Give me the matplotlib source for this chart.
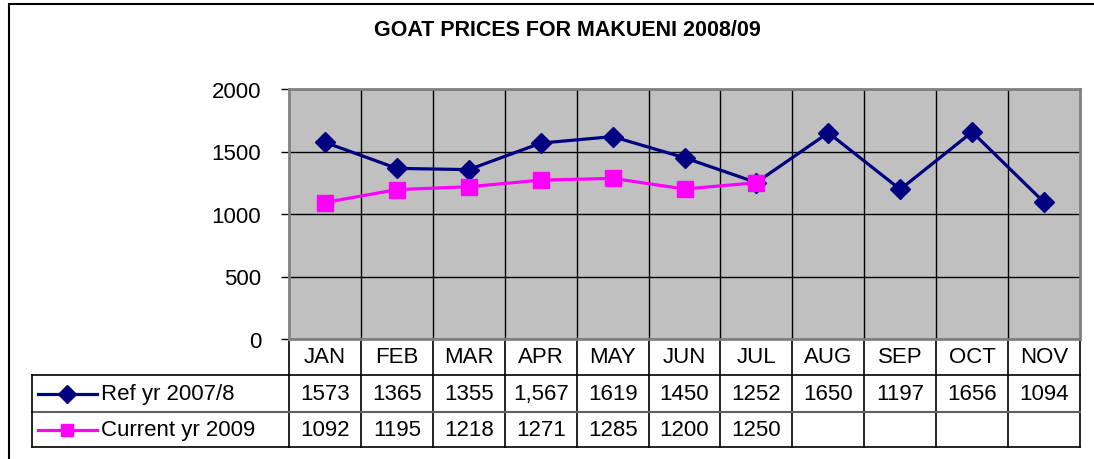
import matplotlib
matplotlib.use("Agg")
import matplotlib.pyplot as plt
from matplotlib.lines import Line2D
from matplotlib.patches import Rectangle
import matplotlib.transforms as mtransforms

months = ["JAN", "FEB", "MAR", "APR", "MAY", "JUN", "JUL", "AUG", "SEP", "OCT", "NOV"]
ref_values = [1573, 1365, 1355, 1567, 1619, 1450, 1252, 1650, 1197, 1656, 1094]
ref_labels = ["1573", "1365", "1355", "1,567", "1619", "1450", "1252", "1650", "1197", "1656", "1094"]
cur_values = [1092, 1195, 1218, 1271, 1285, 1200, 1250]
series_names = ["Ref yr 2007/8", "Current yr 2009"]
y_ticks = [0, 500, 1000, 1500, 2000]
title = "GOAT PRICES FOR MAKUENI 2008/09"

plt.rcParams['font.family'] = ['Liberation Sans', 'DejaVu Sans']

W, H = 1094, 460
fig = plt.figure(figsize=(W / 100, H / 100), dpi=100)
fig.patch.set_facecolor("white")

# outer chart border (only top/left visible)
fig.add_artist(Rectangle((9 / W, -0.1), 1.2, 1 - 5 / H + 0.1, transform=fig.transFigure,
                         fill=False, edgecolor="black", lw=1.5))

L, R, T, B = 289, 1080, 90, 340
ax = fig.add_axes([L / W, 1 - B / H, (R - L) / W, (B - T) / H])
ax.set_facecolor("#C0C0C0")
for s in ax.spines.values():
    s.set_color("#808080")
    s.set_linewidth(2)

x_ref = list(range(len(ref_values)))
x_cur = list(range(len(cur_values)))
navy = "#000080"
mag = "#FF00FF"
ax.plot(x_ref, ref_values, color=navy, lw=2.3, marker="D", ms=10.5, mec=navy, mfc=navy, zorder=5)
ax.plot(x_cur, cur_values, color=mag, lw=2.3, marker="s", ms=11.5, mec=mag, mfc=mag, zorder=5)

ax.set_xlim(-0.5, len(months) - 0.5)
ax.set_ylim(0, 2000)
ax.set_yticks(y_ticks)
ax.set_yticklabels([str(v) for v in y_ticks], fontsize=16)
ax.tick_params(axis="y", length=6, width=1, color="black", direction="out", pad=14)
ax.set_xticks([i + 0.5 for i in range(len(months) - 1)], minor=False)
ax.tick_params(axis="x", length=0, labelbottom=False)
ax.grid(True, axis="both", color="black", lw=1)
ax.set_axisbelow(True)

fig.text(567 / W, 1 - 30 / H, title, ha="center", va="center", fontsize=15.5, fontweight="bold")

# data table
blend = mtransforms.blended_transform_factory(ax.transData, ax.transAxes)
ph = B - T
def yf(py):
    return -(py - B) / ph

y_hdr = yf(376)
y_r1 = yf(413)
y_r2 = yf(448)
xl = (32 - L) / (R - L)

def line(xs, ys, trans, color="black", lw=1.2):
    ax.add_line(Line2D(xs, ys, transform=trans, color=color, lw=lw, clip_on=False))

n = len(months)
for i in range(n + 1):
    line([i - 0.5, i - 0.5], [0, y_r2], blend)
line([-0.5, n - 0.5], [y_hdr, y_hdr], blend)
line([-0.5, n - 0.5], [y_r1, y_r1], blend, color="#606060", lw=1.5)
line([-0.5, n - 0.5], [y_r2, y_r2], blend)
line([xl, 0], [y_hdr, y_hdr], ax.transAxes)
line([xl, 0], [y_r1, y_r1], ax.transAxes, color="#606060", lw=1.5)
line([xl, 0], [y_r2, y_r2], ax.transAxes)
line([xl, xl], [y_hdr, y_r2], ax.transAxes)

fs = 16
for i, m in enumerate(months):
    ax.text(i, (0 + y_hdr) / 2, m, transform=blend, ha="center", va="center", fontsize=fs)
for i, t in enumerate(ref_labels):
    ax.text(i, (y_hdr + y_r1) / 2, t, transform=blend, ha="center", va="center", fontsize=fs)
for i, v in enumerate(cur_values):
    ax.text(i, (y_r1 + y_r2) / 2, str(v), transform=blend, ha="center", va="center", fontsize=fs)

# legend keys
def px2ax(px):
    return (px - L) / (R - L)
for (yy0, yy1), name, col, mk, ms in [((y_hdr, y_r1), series_names[0], navy, "D", 9),
                                      ((y_r1, y_r2), series_names[1], mag, "s", 9)]:
    yc = (yy0 + yy1) / 2
    ax.add_line(Line2D([px2ax(38), px2ax(97)], [yc, yc], transform=ax.transAxes, color=col,
                       lw=2.3, clip_on=False))
    ax.add_line(Line2D([px2ax(67)], [yc], transform=ax.transAxes, color=col, marker=mk, ms=ms,
                       mfc=col, mec=col, clip_on=False))
    ax.text(px2ax(101), yc, name, transform=ax.transAxes, ha="left", va="center", fontsize=fs)

fig.savefig("out.png", dpi=100)
